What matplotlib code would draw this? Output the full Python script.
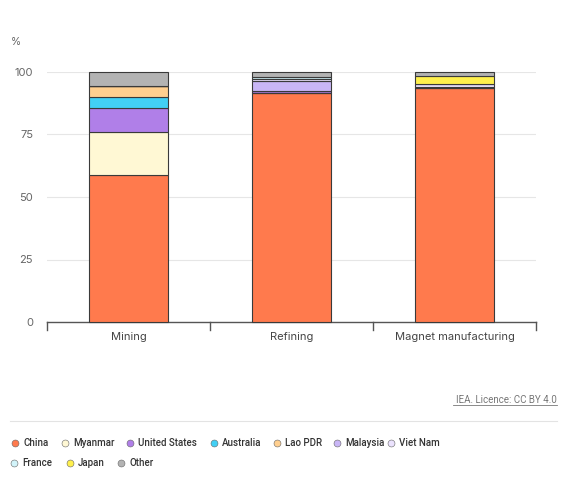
import numpy as np
import matplotlib.pyplot as plt

plt.rcParams['font.family'] = ['Inter', 'DejaVu Sans']

stages = ['Mining', 'Refining', 'Magnet manufacturing']
countries = ['China', 'Myanmar', 'United States', 'Australia', 'Lao PDR',
             'Malaysia', 'Viet Nam', 'France', 'Japan', 'Other']
colors = ['#ff7a4d', '#fff8d4', '#b07fe8', '#42d0f5', '#ffcf8f',
          '#c9b6f6', '#ebe2fd', '#d2f4fa', '#fff04d', '#b3b3b3']

# shares in %, one list per country (Mining, Refining, Magnet manufacturing)
china = [58.8, 91.5, 93.5]
myanmar = [17.1, 0.0, 0.0]
united_states = [9.6, 0.8, 0.5]
australia = [4.4, 0.0, 0.0]
lao_pdr = [4.4, 0.0, 0.0]
malaysia = [0.0, 4.0, 0.0]
viet_nam = [0.0, 1.0, 1.0]
france = [0.0, 0.7, 0.0]
japan = [0.0, 0.0, 3.5]
other = [5.7, 2.0, 1.5]

series = [china, myanmar, united_states, australia, lao_pdr,
          malaysia, viet_nam, france, japan, other]

fig = plt.figure(figsize=(5.69, 4.79), dpi=100)
ax = fig.add_axes([47 / 569, 1 - 322 / 479, 489 / 569, 250 / 479])

x = np.arange(len(stages))
bottom = np.zeros(len(stages))
for vals, col in zip(series, colors):
    vals = np.array(vals)
    ax.bar(x, vals, bottom=bottom, width=0.48, color=col,
           edgecolor='#3a3a3a', linewidth=0.8, clip_on=False, zorder=3)
    bottom += vals

ax.set_xlim(-0.5, 2.5)
ax.set_ylim(0, 100)
ax.set_yticks([0, 25, 50, 75, 100])
ax.yaxis.grid(True, color='#e6e6e6', linewidth=0.8)
ax.set_axisbelow(True)
for s in ['top', 'right', 'left']:
    ax.spines[s].set_visible(False)
ax.spines['bottom'].set_color('#555555')
ax.spines['bottom'].set_linewidth(1.0)
ax.tick_params(axis='y', length=0, labelsize=8, labelcolor='#666666', pad=10)
ax.tick_params(axis='x', length=0, labelsize=8, labelcolor='#444444', pad=7)
ax.set_xticks(x)
ax.set_xticklabels(stages)
# boundary ticks between categories
for b in [-0.5, 0.5, 1.5, 2.5]:
    ax.plot([b, b], [0, -3], color='#555555', lw=1.0, clip_on=False)

fig.text(11 / 569, 1 - 42 / 479, '%', fontsize=7.5, color='#666666', va='center')

fig.text(557 / 569, 1 - 400 / 479, 'IEA. Licence: CC BY 4.0', fontsize=7,
         color='#777777', ha='right', va='center', family='Roboto')
fig.add_artist(plt.Line2D([453 / 569, 557 / 569], [1 - 405 / 479, 1 - 405 / 479],
                          color='#777777', lw=0.6))
fig.add_artist(plt.Line2D([10 / 569, 557 / 569], [1 - 421 / 479, 1 - 421 / 479],
                          color='#e3e3e3', lw=0.8))

# legend drawn by hand to keep two rows laid out like the original
mark_x = [15, 65, 130, 214, 277, 337, 391, 14, 70, 121]
row_y = [443] * 7 + [463] * 3
for name, col, mx, my in zip(countries, colors, mark_x, row_y):
    fig.add_artist(plt.Line2D([mx / 569], [1 - my / 479], marker='o', markersize=5,
                              markerfacecolor=col, markeredgecolor='#666666',
                              markeredgewidth=0.4, linestyle='none'))
    fig.text((mx + 8) / 569, 1 - my / 479, name, fontsize=7, color='#333333',
             va='center', ha='left', family='Roboto', weight='medium')

fig.savefig('out.png', dpi=100)
